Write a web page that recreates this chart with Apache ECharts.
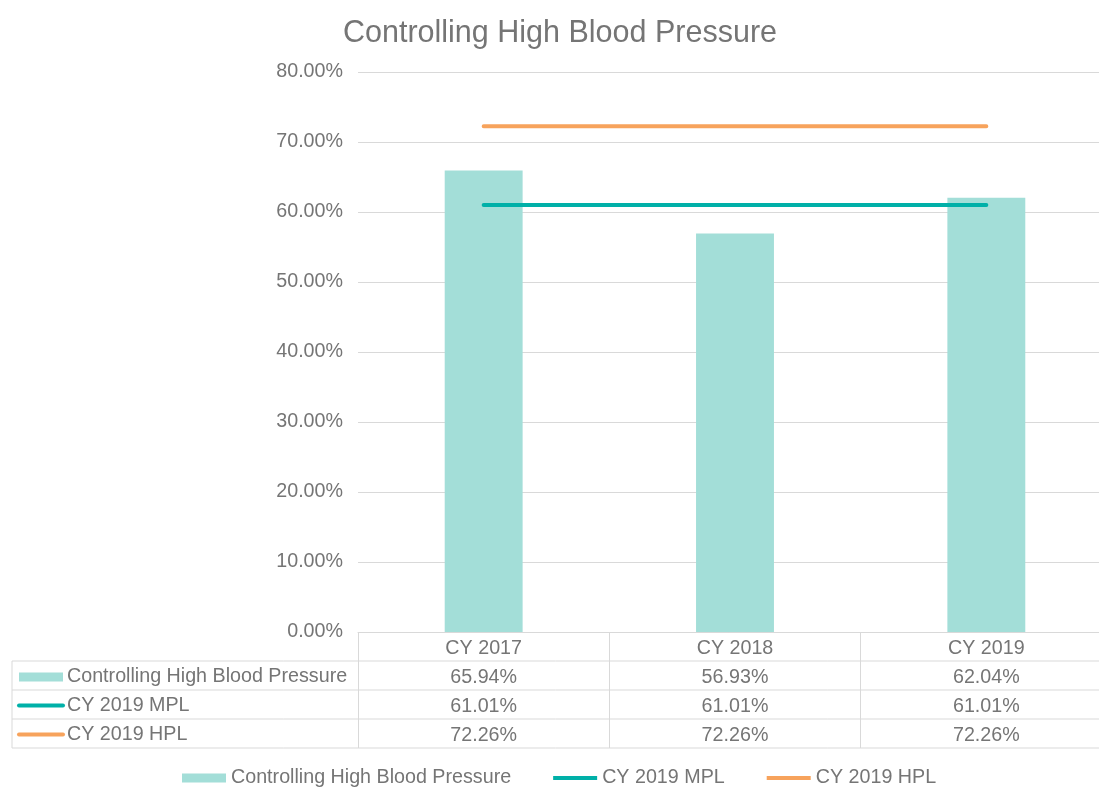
<!DOCTYPE html>
<html>
<head>
<meta charset="utf-8">
<script src="https://cdn.jsdelivr.net/npm/echarts@6/dist/echarts.min.js"></script>
<style>
  html, body { margin: 0; padding: 0; background: #fff; }
  #chart { width: 1099px; height: 788px; }
</style>
</head>
<body>
<div id="chart"></div>
<script>
// data
const categories = ['CY 2017', 'CY 2018', 'CY 2019'];
const hbpValues = [65.94, 56.93, 62.04];
const mplValues = [61.01, 61.01, 61.01];
const hplValues = [72.26, 72.26, 72.26];
const seriesNames = ['Controlling High Blood Pressure', 'CY 2019 MPL', 'CY 2019 HPL'];

const textColor = '#757575';
const lineColor = '#D9D9D9';
const colors = ['#A3DED8', '#00B0A8', '#F7A35C'];
const font = '"Liberation Sans", Arial, sans-serif';
const fs = 19.7;

const gridLeft = 358, gridTop = 72, gridWidth = 754, gridHeight = 560;
const rowH = 29;
const tableTop = gridTop + gridHeight;

const fmt = v => v.toFixed(2) + '%';
const tableRows = [hbpValues, mplValues, hplValues];
const lineIcon = 'path://M0,0 H44 V4 H0 Z';

// table lines + row headers
const graphics = [];
for (let r = 1; r <= 4; r++) {
  graphics.push({
    type: 'line', silent: true,
    shape: { x1: 12, y1: tableTop + r * rowH, x2: 1099, y2: tableTop + r * rowH },
    style: { stroke: lineColor, lineWidth: 1 }
  });
}
graphics.push({
  type: 'line', silent: true,
  shape: { x1: 12, y1: tableTop + rowH, x2: 12, y2: tableTop + 4 * rowH },
  style: { stroke: lineColor, lineWidth: 1 }
});
seriesNames.forEach((name, i) => {
  const cy = tableTop + rowH * (i + 1) + rowH / 2 + 1;
  if (i === 0) {
    graphics.push({ type: 'rect', silent: true, shape: { x: 19, y: cy - 4, width: 44, height: 9 }, style: { fill: colors[0] } });
  } else {
    graphics.push({ type: 'line', silent: true, shape: { x1: 19, y1: cy, x2: 63, y2: cy }, style: { stroke: colors[i], lineWidth: 4, lineCap: 'round' } });
  }
  graphics.push({
    type: 'text', silent: true, x: 67, y: cy,
    style: { text: name, fill: textColor, font: fs + 'px ' + font, textVerticalAlign: 'middle' }
  });
});

const chart = echarts.init(document.getElementById('chart'));
chart.setOption({
  animation: false,
  title: {
    text: 'Controlling High Blood Pressure',
    left: 555, top: 13, textAlign: 'center',
    textStyle: { color: textColor, fontSize: 30.5, fontWeight: 'normal', fontFamily: font }
  },
  legend: {
    top: 763, left: 177,
    itemWidth: 44, itemHeight: 9, itemGap: 42,
    textStyle: { color: textColor, fontSize: fs, fontFamily: font },
    data: [
      { name: seriesNames[0], icon: 'rect' },
      { name: seriesNames[1], icon: lineIcon },
      { name: seriesNames[2], icon: lineIcon }
    ]
  },
  grid: { left: gridLeft, top: gridTop, width: gridWidth, height: gridHeight, outerBoundsMode: 'none' },
  xAxis: {
    type: 'category',
    data: categories,
    axisLine: { show: true, lineStyle: { color: lineColor, width: 1 } },
    axisTick: { show: true, length: rowH * 4, lineStyle: { color: lineColor } },
    axisLabel: {
      margin: 2,
      formatter: (v, idx) => ['{c|' + v + '}'].concat(tableRows.map(row => '{v|' + fmt(row[idx]) + '}')).join('\n'),
      rich: {
        c: { color: textColor, fontSize: fs, fontFamily: font, lineHeight: rowH, height: rowH },
        v: { color: textColor, fontSize: fs, fontFamily: font, lineHeight: rowH, height: rowH }
      }
    }
  },
  yAxis: {
    type: 'value', min: 0, max: 80, interval: 10,
    axisLine: { show: false }, axisTick: { show: false },
    splitLine: { lineStyle: { color: lineColor, width: 1 } },
    axisLabel: { color: textColor, fontSize: fs, fontFamily: font, margin: 15, formatter: v => v.toFixed(2) + '%' }
  },
  graphic: graphics,
  series: [
    { name: seriesNames[0], type: 'bar', data: hbpValues, barWidth: '31%', itemStyle: { color: colors[0] } },
    { name: seriesNames[1], type: 'line', data: mplValues, symbol: 'none', z: 3,
      lineStyle: { color: colors[1], width: 4, cap: 'round' }, itemStyle: { color: colors[1] } },
    { name: seriesNames[2], type: 'line', data: hplValues, symbol: 'none', z: 3,
      lineStyle: { color: colors[2], width: 4, cap: 'round' }, itemStyle: { color: colors[2] } }
  ]
});
</script>
</body>
</html>
